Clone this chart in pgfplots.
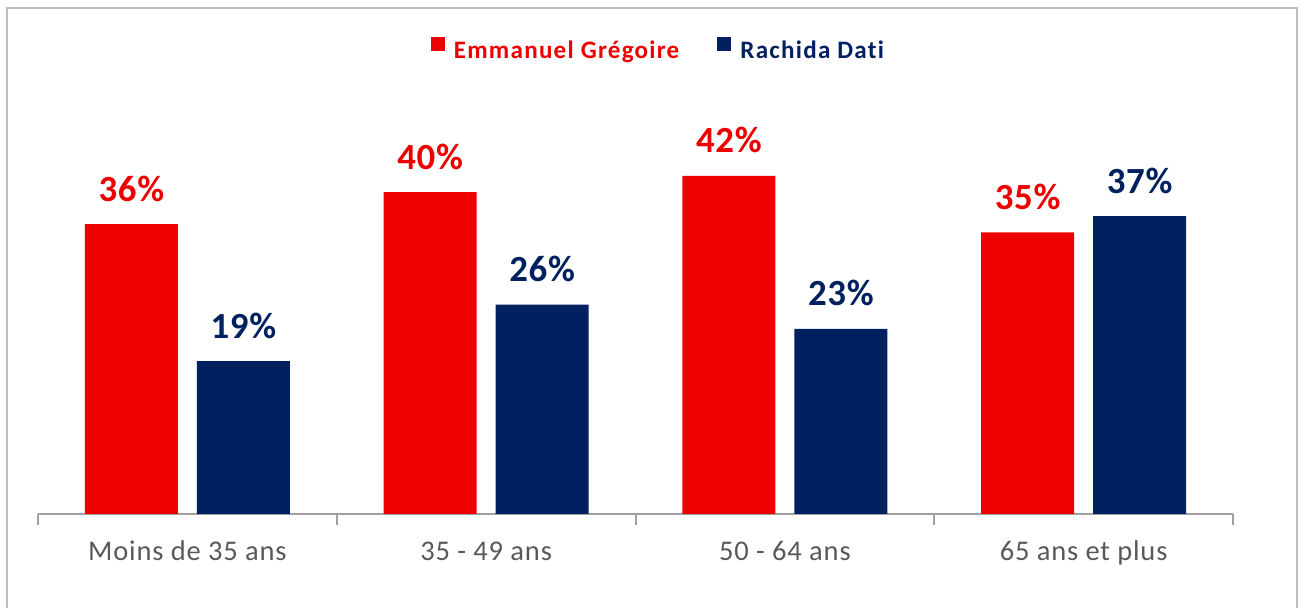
\documentclass[border=0pt]{standalone}
\usepackage{pgfplots}
\pgfplotsset{compat=1.18}
\usepackage{fontspec}
\setmainfont[Ligatures=NoCommon]{Carlito}
\definecolor{egred}{RGB}{236,0,0}
\definecolor{rdnavy}{RGB}{0,32,96}
\definecolor{framegray}{RGB}{191,191,191}
\definecolor{axgray}{RGB}{160,160,160}
\definecolor{labgray}{RGB}{89,89,89}
\begin{document}
\begin{tikzpicture}
\useasboundingbox (0,0) rectangle (652bp,304bp);
\draw[framegray, line width=1.2bp] (3.5bp,0) -- (3.5bp,300bp) -- (648.5bp,300bp) -- (648.5bp,0);
\begin{axis}[
  at={(19bp,47bp)}, anchor=south west,
  scale only axis, width=597.5bp, height=181.1bp,
  xmin=-0.5, xmax=3.5, ymin=0, ymax=45,
  axis x line*=bottom, axis y line=none,
  x axis line style={axgray, line width=1bp},
  xtick={0,1,2,3},
  xticklabels={Moins de 35 ans, 35 - 49 ans, 50 - 64 ans, 65 ans et plus},
  major tick length=0pt,
  minor xtick={-0.5,0.5,1.5,2.5,3.5},
  minor tick length=5.5bp,
  tick align=outside,
  minor tick style={axgray, line width=1bp},
  xticklabel style={anchor=base, yshift=-23bp, text=labgray, font=\fontsize{14.3}{14.3}\selectfont\addfontfeature{LetterSpace=3}},
  ytick=\empty,
  ybar, bar width=46.5bp,
  /pgf/number format/assume math mode=true,
  nodes near coords={\pgfmathprintnumber[fixed,precision=0]{\pgfplotspointmeta}\%},
  every node near coord/.append style={anchor=base, yshift=11.5bp, inner sep=0pt, font=\bfseries\fontsize{18.5}{18.5}\selectfont\addfontfeature{LetterSpace=2}},
  legend columns=2,
  legend style={draw=none, fill=none, at={(0.52,1.277)}, anchor=center,
    font=\bfseries\fontsize{12.6}{12.6}\selectfont\addfontfeature{LetterSpace=5},
    /tikz/every odd column/.append style={column sep=2.5bp},
    /tikz/every even column/.append style={column sep=17bp}},
  legend image code/.code={\fill[#1] (0bp,0bp) rectangle (7bp,7bp);},
]
\addplot[draw=none, fill=egred, bar shift=-28bp, nodes near coords style={text=egred}]
  coordinates {(0,36) (1,40) (2,42) (3,35)};
\addlegendentry[text=egred]{Emmanuel Grégoire}
\addplot[draw=none, fill=rdnavy, bar shift=28bp, nodes near coords style={text=rdnavy}]
  coordinates {(0,19) (1,26) (2,23) (3,37)};
\addlegendentry[text=rdnavy]{Rachida Dati}
\end{axis}
\end{tikzpicture}
\end{document}
